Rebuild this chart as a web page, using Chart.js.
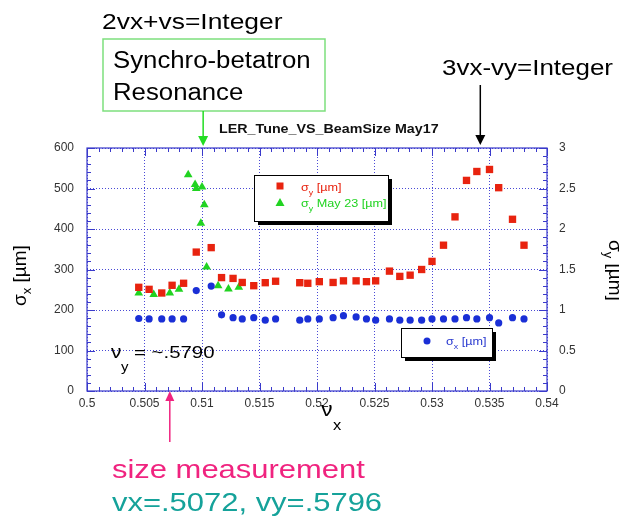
<!DOCTYPE html>
<html>
<head>
<meta charset="utf-8">
<script src="https://cdn.jsdelivr.net/npm/chart.js@4"></script>
<style>
html, body { margin: 0; padding: 0; background: #fff; }
</style>
</head>
<body>
<canvas id="grafico" width="619" height="519"></canvas>
<script>
// dados (nu_x x tamanho do feixe)
const nux = [0.5045, 0.5054, 0.5065, 0.5074, 0.5084, 0.5095, 0.5108, 0.5117, 0.5127, 0.5135,
             0.5145, 0.5155, 0.5164, 0.5185, 0.5192, 0.5202, 0.5214, 0.5223, 0.5234, 0.5243,
             0.5251, 0.5263, 0.5272, 0.5281, 0.5291, 0.5300, 0.5310, 0.5320, 0.5330, 0.5339,
             0.5350, 0.5358, 0.5370, 0.5380];
const sigmaX = [179, 178, 178, 178, 178, 248, 259, 188, 181, 178,
                181, 175, 178, 175, 178, 178, 181, 186, 183, 178,
                175, 178, 175, 175, 175, 178, 178, 178, 181, 178,
                181, 168, 181, 178];
const sigmaY = [1.28, 1.255, 1.21, 1.305, 1.33, 1.715, 1.77, 1.40, 1.39, 1.34,
                1.30, 1.337, 1.355, 1.337, 1.33, 1.35, 1.34, 1.36, 1.36, 1.35,
                1.36, 1.48, 1.415, 1.43, 1.50, 1.60, 1.80, 2.15, 2.60, 2.71,
                2.735, 2.51, 2.12, 1.80];
const nuxMay23 = [0.5045, 0.5058, 0.5072, 0.5080, 0.5088, 0.5094, 0.5095, 0.5100, 0.5102, 0.5099, 0.5104, 0.5114, 0.5123, 0.5132];
const sigmaYMay23 = [1.21, 1.19, 1.21, 1.255, 2.67, 2.55, 2.50, 2.52, 2.30, 2.07, 1.53, 1.30, 1.26, 1.28];

const xTickValues = [0.5, 0.505, 0.51, 0.515, 0.52, 0.525, 0.53, 0.535, 0.54];
const xTickLabels = ['0.5', '0.505', '0.51', '0.515', '0.52', '0.525', '0.53', '0.535', '0.54'];
const yTickValues = [0, 100, 200, 300, 400, 500, 600];
const yTickLabels = ['0', '100', '200', '300', '400', '500', '600'];
const y2TickValues = [0, 0.5, 1, 1.5, 2, 2.5, 3];
const y2TickLabels = ['0', '0.5', '1', '1.5', '2', '2.5', '3'];

// posicoes das setas (em nu_x)
const nuxRessonanciaSB = 0.5101;
const nuxRessonancia3 = 0.5342;
const nuxMedida = 0.5072;

const FONTE = 'Liberation Sans';
const AZUL = '#3a3acb';

// desenha sequencia de pedacos de texto (com subscrito) esticados na horizontal
function escreve(ctx, pedacos, x, y, sx) {
    ctx.save();
    ctx.translate(x, y);
    ctx.scale(sx || 1, 1);
    let px = 0;
    ctx.textAlign = 'left';
    ctx.textBaseline = 'alphabetic';
    pedacos.forEach(p => {
        ctx.font = p.font;
        ctx.fillStyle = p.cor;
        ctx.fillText(p.t, px, p.dy || 0);
        px += ctx.measureText(p.t).width;
    });
    ctx.restore();
}

function seta(ctx, x, y1, y2, cor, larg) {
    const dir = y2 > y1 ? 1 : -1;
    ctx.save();
    ctx.strokeStyle = cor;
    ctx.fillStyle = cor;
    ctx.lineWidth = 1.5;
    ctx.beginPath();
    ctx.moveTo(x, y1);
    ctx.lineTo(x, y2 - dir * 8);
    ctx.stroke();
    ctx.beginPath();
    ctx.moveTo(x, y2);
    ctx.lineTo(x - larg / 2, y2 - dir * 10);
    ctx.lineTo(x + larg / 2, y2 - dir * 10);
    ctx.closePath();
    ctx.fill();
    ctx.restore();
}

const extras = {
    id: 'extras',
    afterDatasetsDraw(chart) {
        const ctx = chart.ctx;
        const a = chart.chartArea;
        const sx = chart.scales.x;
        const sy = chart.scales.y;

        // moldura
        ctx.save();
        ctx.strokeStyle = AZUL;
        ctx.lineWidth = 1.2;
        ctx.strokeRect(a.left, a.top, a.right - a.left, a.bottom - a.top);

        // ticks para dentro
        ctx.lineWidth = 1;
        ctx.beginPath();
        for (let i = 0; i <= 40; i++) {
            const px = Math.round(sx.getPixelForValue(0.5 + i * 0.001)) + 0.5;
            const L = i % 5 === 0 ? 8 : 4;
            ctx.moveTo(px, a.bottom); ctx.lineTo(px, a.bottom - L);
            ctx.moveTo(px, a.top); ctx.lineTo(px, a.top + L);
        }
        for (let i = 0; i <= 30; i++) {
            const py = Math.round(sy.getPixelForValue(i * 20)) + 0.5;
            const L = i % 5 === 0 ? 8 : 4;
            ctx.moveTo(a.left, py); ctx.lineTo(a.left + L, py);
            ctx.moveTo(a.right, py); ctx.lineTo(a.right - L, py);
        }
        ctx.stroke();
        ctx.restore();

        // legenda 1
        ctx.save();
        ctx.fillStyle = '#000';
        ctx.fillRect(258, 179, 134, 46);
        ctx.fillStyle = '#fff';
        ctx.fillRect(254, 175, 134, 46);
        ctx.strokeStyle = '#000';
        ctx.lineWidth = 1;
        ctx.strokeRect(254.5, 175.5, 134, 46);
        ctx.fillStyle = '#e8230f';
        ctx.fillRect(276.5, 182.5, 7, 7);
        ctx.fillStyle = '#21d321';
        ctx.beginPath();
        ctx.moveTo(280, 198); ctx.lineTo(284.5, 206); ctx.lineTo(275.5, 206); ctx.closePath();
        ctx.fill();
        ctx.restore();
        const f11 = '11.5px ' + FONTE, f7 = '8px ' + FONTE;
        escreve(ctx, [{t: 'σ', font: f11, cor: '#e8230f'}, {t: 'y', font: f7, cor: '#e8230f', dy: 4}, {t: ' [µm]', font: f11, cor: '#e8230f'}], 301, 191, 1.1);
        escreve(ctx, [{t: 'σ', font: f11, cor: '#21d321'}, {t: 'y', font: f7, cor: '#21d321', dy: 4}, {t: ' May 23 [µm]', font: f11, cor: '#21d321'}], 301, 207, 1.1);

        // legenda 2
        ctx.save();
        ctx.fillStyle = '#000';
        ctx.fillRect(405, 332, 91, 29);
        ctx.fillStyle = '#fff';
        ctx.fillRect(401, 328, 91, 29);
        ctx.strokeStyle = '#000';
        ctx.strokeRect(401.5, 328.5, 91, 29);
        ctx.fillStyle = '#1a2fd6';
        ctx.beginPath();
        ctx.arc(427, 341, 3.5, 0, Math.PI * 2);
        ctx.fill();
        ctx.restore();
        escreve(ctx, [{t: 'σ', font: f11, cor: '#2a3ad0'}, {t: 'x', font: f7, cor: '#2a3ad0', dy: 4}, {t: ' [µm]', font: f11, cor: '#2a3ad0'}], 446, 345, 1.1);

        // nu_y
        escreve(ctx, [{t: 'ν', font: '18px ' + FONTE, cor: '#000'}], 111, 358, 1.15);
        escreve(ctx, [{t: 'y', font: '13px ' + FONTE, cor: '#000'}], 121, 371, 1.15);
        escreve(ctx, [{t: '= ~.5790', font: '17px ' + FONTE, cor: '#000'}], 134, 358, 1.2);
    },
    afterDraw(chart) {
        const ctx = chart.ctx;
        const sx = chart.scales.x;

        // titulo
        escreve(ctx, [{t: 'LER_Tune_VS_BeamSize May17', font: 'bold 12px ' + FONTE, cor: '#111'}], 219, 133, 1.19);

        // titulos dos eixos
        ctx.save();
        ctx.translate(26, 306);
        ctx.rotate(-Math.PI / 2);
        escreve(ctx, [{t: 'σ', font: '19px ' + FONTE, cor: '#000'}, {t: 'x', font: '13px ' + FONTE, cor: '#000', dy: 5}, {t: ' [µm]', font: '19px ' + FONTE, cor: '#000'}], 0, 0, 1);
        ctx.restore();
        ctx.save();
        ctx.translate(609, 240);
        ctx.rotate(Math.PI / 2);
        escreve(ctx, [{t: 'σ', font: '19px ' + FONTE, cor: '#000'}, {t: 'y', font: '13px ' + FONTE, cor: '#000', dy: 5}, {t: ' [µm]', font: '19px ' + FONTE, cor: '#000'}], 0, 0, 1);
        ctx.restore();
        escreve(ctx, [{t: 'ν', font: '21px ' + FONTE, cor: '#000'}], 321, 416, 1.1);
        escreve(ctx, [{t: 'x', font: '15px ' + FONTE, cor: '#000'}], 333, 430, 1.1);

        // anotacoes
        escreve(ctx, [{t: '2vx+vs=Integer', font: '22px ' + FONTE, cor: '#000'}], 102, 29, 1.2);
        ctx.save();
        ctx.strokeStyle = '#7ddf7d';
        ctx.lineWidth = 1.5;
        ctx.strokeRect(103, 39, 222, 72);
        ctx.restore();
        escreve(ctx, [{t: 'Synchro-betatron', font: '23px ' + FONTE, cor: '#000'}], 113, 68, 1.12);
        escreve(ctx, [{t: 'Resonance', font: '23px ' + FONTE, cor: '#000'}], 113, 100, 1.12);
        seta(ctx, sx.getPixelForValue(nuxRessonanciaSB), 111, 146, '#22dd22', 10);

        escreve(ctx, [{t: '3vx-vy=Integer', font: '22px ' + FONTE, cor: '#000'}], 442, 75, 1.18);
        seta(ctx, sx.getPixelForValue(nuxRessonancia3), 85, 145, '#000', 10);

        seta(ctx, sx.getPixelForValue(nuxMedida), 442, 391, '#f0237f', 9);
        escreve(ctx, [{t: 'size measurement', font: '26px ' + FONTE, cor: '#f0237f'}], 112, 478, 1.19);
        escreve(ctx, [{t: 'vx=.5072, vy=.5796', font: '26px ' + FONTE, cor: '#15a29a'}], 112, 511, 1.19);
    }
};

const fonteTicks = {family: FONTE, size: 12};

function criargrafico(canvasID) {
    const ctx = document.getElementById(canvasID).getContext('2d');

    new Chart(ctx, {
        type: 'scatter',
        data: {
            datasets: [{
                label: 'σx [µm]',
                data: nux.map((v, i) => ({x: v, y: sigmaX[i]})),
                yAxisID: 'y',
                pointStyle: 'circle',
                pointRadius: 3.6,
                backgroundColor: '#1a2fd6',
                borderWidth: 0
            }, {
                label: 'σy [µm]',
                data: nux.map((v, i) => ({x: v, y: sigmaY[i]})),
                yAxisID: 'y2',
                pointStyle: 'rect',
                pointRadius: 5.2,
                backgroundColor: '#e8230f',
                borderWidth: 0
            }, {
                label: 'σy May 23 [µm]',
                data: nuxMay23.map((v, i) => ({x: v, y: sigmaYMay23[i]})),
                yAxisID: 'y2',
                pointStyle: 'triangle',
                pointRadius: 5,
                backgroundColor: '#21d321',
                borderWidth: 0
            }]
        },
        options: {
            responsive: false,
            animation: false,
            devicePixelRatio: 1,
            layout: {padding: {top: 148, left: 0, right: 0, bottom: 0}},
            plugins: {legend: {display: false}, tooltip: {enabled: false}},
            scales: {
                x: {
                    type: 'linear',
                    min: 0.5,
                    max: 0.54,
                    afterBuildTicks: s => { s.ticks = xTickValues.map(v => ({value: v})); },
                    afterFit: s => { s.height = 128; },
                    ticks: {
                        callback: (v, i) => xTickLabels[i],
                        font: fonteTicks,
                        color: '#333',
                        padding: 5,
                        maxRotation: 0,
                        autoSkip: false
                    },
                    grid: {color: '#4a4ad6', lineWidth: 1, drawTicks: false},
                    border: {display: false, dash: [1, 2]}
                },
                y: {
                    position: 'left',
                    min: 0,
                    max: 600,
                    afterBuildTicks: s => { s.ticks = yTickValues.map(v => ({value: v})); },
                    afterFit: s => { s.width = 87; },
                    ticks: {
                        callback: (v, i) => yTickLabels[i],
                        font: fonteTicks,
                        color: '#333',
                        padding: 13
                    },
                    grid: {color: '#4a4ad6', lineWidth: 1, drawTicks: false},
                    border: {display: false, dash: [1, 2]}
                },
                y2: {
                    position: 'right',
                    min: 0,
                    max: 3,
                    afterBuildTicks: s => { s.ticks = y2TickValues.map(v => ({value: v})); },
                    afterFit: s => { s.width = 72; },
                    ticks: {
                        callback: (v, i) => y2TickLabels[i],
                        font: fonteTicks,
                        color: '#333',
                        padding: 12
                    },
                    grid: {drawOnChartArea: false, drawTicks: false},
                    border: {display: false}
                }
            }
        },
        plugins: [extras]
    });
}

criargrafico('grafico');
</script>
</body>
</html>
